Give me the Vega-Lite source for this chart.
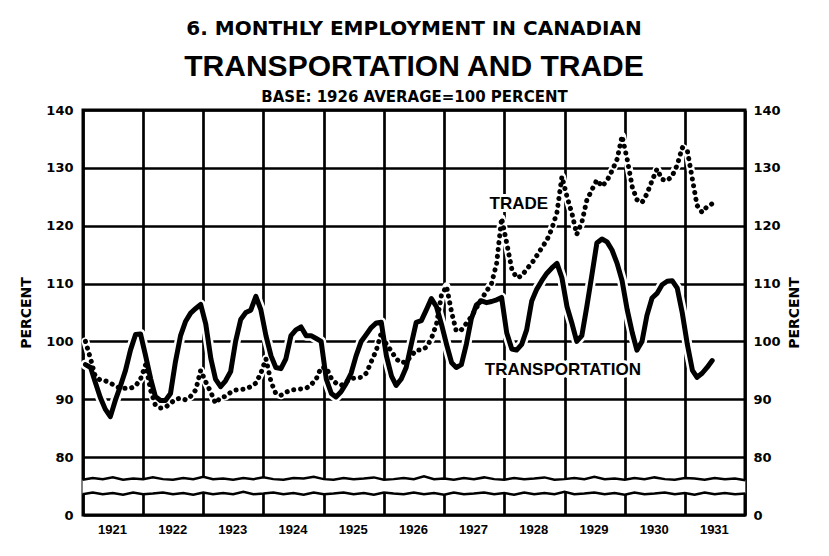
{
  "$schema": "https://vega.github.io/schema/vega-lite/v6.json",
  "width": 662,
  "height": 405,
  "autosize": {"type": "none"},
  "padding": {"left": 83, "top": 110, "right": 84, "bottom": 41},
  "background": "white",
  "config": {"view": {"stroke": "black", "strokeWidth": 3}, "font": "DejaVu Sans"},
  "title": {
    "text": "6. MONTHLY EMPLOYMENT IN CANADIAN",
    "subtitle": "TRANSPORTATION AND TRADE",
    "anchor": "middle",
    "font": "DejaVu Sans", "fontSize": 20, "fontWeight": "bold", "color": "black",
    "subtitleFont": "Liberation Sans", "subtitleFontSize": 30, "subtitleFontWeight": "bold", "subtitleColor": "black",
    "subtitlePadding": 13,
    "offset": 7
  },
  "datasets": {
    "employment": [
      {"date":"1921-01-16","transportation":96,"trade":100},
      {"date":"1921-02-16","transportation":95.5,"trade":97},
      {"date":"1921-03-16","transportation":93,"trade":94},
      {"date":"1921-04-16","transportation":90.3,"trade":93.3},
      {"date":"1921-05-16","transportation":88.3,"trade":93.2},
      {"date":"1921-06-16","transportation":87,"trade":92.8},
      {"date":"1921-07-16","transportation":89.8,"trade":92.3},
      {"date":"1921-08-16","transportation":92.3,"trade":91.9},
      {"date":"1921-09-16","transportation":95,"trade":91.9},
      {"date":"1921-10-16","transportation":98.5,"trade":91.9},
      {"date":"1921-11-16","transportation":101.2,"trade":92.3},
      {"date":"1921-12-16","transportation":101.3,"trade":93.5},
      {"date":"1922-01-16","transportation":97.5,"trade":96},
      {"date":"1922-02-16","transportation":93.5,"trade":91.5},
      {"date":"1922-03-16","transportation":90.5,"trade":89},
      {"date":"1922-04-16","transportation":89.8,"trade":88.5},
      {"date":"1922-05-16","transportation":89.8,"trade":88.6},
      {"date":"1922-06-16","transportation":91,"trade":89.3},
      {"date":"1922-07-16","transportation":96.5,"trade":90},
      {"date":"1922-08-16","transportation":101,"trade":90.2},
      {"date":"1922-09-16","transportation":103.5,"trade":89.9},
      {"date":"1922-10-16","transportation":104.9,"trade":90.5},
      {"date":"1922-11-16","transportation":105.7,"trade":91.6},
      {"date":"1922-12-16","transportation":106.4,"trade":95},
      {"date":"1923-01-16","transportation":103,"trade":93},
      {"date":"1923-02-16","transportation":97,"trade":91.2},
      {"date":"1923-03-16","transportation":93.5,"trade":89.3},
      {"date":"1923-04-16","transportation":92.2,"trade":90.3},
      {"date":"1923-05-16","transportation":93.2,"trade":90.5},
      {"date":"1923-06-16","transportation":94.8,"trade":91.2},
      {"date":"1923-07-16","transportation":100,"trade":91.6},
      {"date":"1923-08-16","transportation":103.8,"trade":91.7},
      {"date":"1923-09-16","transportation":105,"trade":91.8},
      {"date":"1923-10-16","transportation":105.4,"trade":92.2},
      {"date":"1923-11-16","transportation":107.8,"trade":92.8},
      {"date":"1923-12-16","transportation":105.5,"trade":94.5},
      {"date":"1924-01-16","transportation":101,"trade":97},
      {"date":"1924-02-16","transportation":97.5,"trade":93},
      {"date":"1924-03-16","transportation":95.5,"trade":91},
      {"date":"1924-04-16","transportation":95.3,"trade":90.7},
      {"date":"1924-05-16","transportation":97,"trade":91.2},
      {"date":"1924-06-16","transportation":101,"trade":91.6},
      {"date":"1924-07-16","transportation":102,"trade":91.7},
      {"date":"1924-08-16","transportation":102.5,"trade":91.8},
      {"date":"1924-09-16","transportation":101,"trade":91.9},
      {"date":"1924-10-16","transportation":101,"trade":92.5},
      {"date":"1924-11-16","transportation":100.5,"trade":93.5},
      {"date":"1924-12-16","transportation":100,"trade":95.5},
      {"date":"1925-01-16","transportation":93.5,"trade":95.5},
      {"date":"1925-02-16","transportation":91,"trade":93.6},
      {"date":"1925-03-16","transportation":90.4,"trade":92.8},
      {"date":"1925-04-16","transportation":91.3,"trade":92.4},
      {"date":"1925-05-16","transportation":92.7,"trade":93},
      {"date":"1925-06-16","transportation":94.5,"trade":93.6},
      {"date":"1925-07-16","transportation":97.5,"trade":93.7},
      {"date":"1925-08-16","transportation":100,"trade":93.8},
      {"date":"1925-09-16","transportation":101.2,"trade":94.5},
      {"date":"1925-10-16","transportation":102.4,"trade":96.5},
      {"date":"1925-11-16","transportation":103.2,"trade":98.5},
      {"date":"1925-12-16","transportation":103.3,"trade":101.5},
      {"date":"1926-01-16","transportation":97.5,"trade":99.5},
      {"date":"1926-02-16","transportation":94,"trade":98.3},
      {"date":"1926-03-16","transportation":92.4,"trade":97},
      {"date":"1926-04-16","transportation":93.5,"trade":96.3},
      {"date":"1926-05-16","transportation":95.5,"trade":96.5},
      {"date":"1926-06-16","transportation":99.5,"trade":97.5},
      {"date":"1926-07-16","transportation":103.3,"trade":98.5},
      {"date":"1926-08-16","transportation":103.6,"trade":98.5},
      {"date":"1926-09-16","transportation":105.5,"trade":99},
      {"date":"1926-10-16","transportation":107.4,"trade":100.5},
      {"date":"1926-11-16","transportation":106,"trade":103},
      {"date":"1926-12-16","transportation":103,"trade":108},
      {"date":"1927-01-16","transportation":99.5,"trade":109.5},
      {"date":"1927-02-16","transportation":96.3,"trade":105},
      {"date":"1927-03-16","transportation":95.5,"trade":101.8},
      {"date":"1927-04-16","transportation":96,"trade":102},
      {"date":"1927-05-16","transportation":99.5,"trade":103.1},
      {"date":"1927-06-16","transportation":104,"trade":104.3},
      {"date":"1927-07-16","transportation":106.3,"trade":105.8},
      {"date":"1927-08-16","transportation":107,"trade":107.3},
      {"date":"1927-09-16","transportation":106.7,"trade":108.7},
      {"date":"1927-10-16","transportation":106.9,"trade":110},
      {"date":"1927-11-16","transportation":107.2,"trade":113.5},
      {"date":"1927-12-16","transportation":107.6,"trade":121.3},
      {"date":"1928-01-16","transportation":101.5,"trade":117},
      {"date":"1928-02-16","transportation":98.7,"trade":112.5},
      {"date":"1928-03-16","transportation":98.5,"trade":111},
      {"date":"1928-04-16","transportation":99.5,"trade":111.3},
      {"date":"1928-05-16","transportation":102,"trade":112.5},
      {"date":"1928-06-16","transportation":107,"trade":113.5},
      {"date":"1928-07-16","transportation":109,"trade":114.8},
      {"date":"1928-08-16","transportation":110.5,"trade":116.2},
      {"date":"1928-09-16","transportation":111.8,"trade":117.5},
      {"date":"1928-10-16","transportation":112.7,"trade":119.5},
      {"date":"1928-11-16","transportation":113.5,"trade":122.3},
      {"date":"1928-12-16","transportation":111,"trade":128.5},
      {"date":"1929-01-16","transportation":106,"trade":125},
      {"date":"1929-02-16","transportation":103,"trade":122},
      {"date":"1929-03-16","transportation":100,"trade":118.5},
      {"date":"1929-04-16","transportation":101,"trade":120.6},
      {"date":"1929-05-16","transportation":106,"trade":124.4},
      {"date":"1929-06-16","transportation":111.5,"trade":126.2},
      {"date":"1929-07-16","transportation":117,"trade":127.9},
      {"date":"1929-08-16","transportation":117.7,"trade":126.8},
      {"date":"1929-09-16","transportation":117.2,"trade":127.8},
      {"date":"1929-10-16","transportation":115.8,"trade":129.5},
      {"date":"1929-11-16","transportation":113.5,"trade":131.5},
      {"date":"1929-12-16","transportation":110.5,"trade":135.5},
      {"date":"1930-01-16","transportation":105.5,"trade":131.5},
      {"date":"1930-02-16","transportation":101.5,"trade":126.7},
      {"date":"1930-03-16","transportation":98.5,"trade":124.5},
      {"date":"1930-04-16","transportation":100,"trade":124},
      {"date":"1930-05-16","transportation":104.5,"trade":125.5},
      {"date":"1930-06-16","transportation":107.5,"trade":127.8},
      {"date":"1930-07-16","transportation":108.3,"trade":129.8},
      {"date":"1930-08-16","transportation":109.8,"trade":128},
      {"date":"1930-09-16","transportation":110.4,"trade":127.8},
      {"date":"1930-10-16","transportation":110.5,"trade":128.6},
      {"date":"1930-11-16","transportation":109.2,"trade":130.5},
      {"date":"1930-12-16","transportation":105,"trade":133.5},
      {"date":"1931-01-16","transportation":99.5,"trade":133},
      {"date":"1931-02-16","transportation":95,"trade":128},
      {"date":"1931-03-16","transportation":93.8,"trade":123.5},
      {"date":"1931-04-16","transportation":94.5,"trade":122.3},
      {"date":"1931-05-16","transportation":95.5,"trade":123.3},
      {"date":"1931-06-16","transportation":96.7,"trade":123.8}
    ],
    "breakline": [
      {"date":"1920-12-29","upper":76.1,"lower":73.6},
      {"date":"1921-03-01","upper":76.4,"lower":73.9},
      {"date":"1921-05-01","upper":76.2,"lower":73.6},
      {"date":"1921-07-01","upper":76.5,"lower":73.8},
      {"date":"1921-09-01","upper":76.1,"lower":73.5},
      {"date":"1921-11-01","upper":76.3,"lower":73.9},
      {"date":"1922-01-01","upper":76.2,"lower":73.6},
      {"date":"1922-03-01","upper":76.5,"lower":73.7},
      {"date":"1922-05-01","upper":76.2,"lower":73.9},
      {"date":"1922-07-01","upper":76.1,"lower":73.6},
      {"date":"1922-09-01","upper":76.4,"lower":73.8},
      {"date":"1922-11-01","upper":76.2,"lower":73.5},
      {"date":"1923-01-01","upper":76.6,"lower":73.9},
      {"date":"1923-03-01","upper":76.2,"lower":73.6},
      {"date":"1923-05-01","upper":76.3,"lower":73.8},
      {"date":"1923-07-01","upper":76.1,"lower":73.6},
      {"date":"1923-09-01","upper":76.4,"lower":74.0},
      {"date":"1923-11-01","upper":76.2,"lower":73.6},
      {"date":"1924-01-01","upper":76.5,"lower":73.7},
      {"date":"1924-03-01","upper":76.2,"lower":73.9},
      {"date":"1924-05-01","upper":76.1,"lower":73.6},
      {"date":"1924-07-01","upper":76.4,"lower":73.8},
      {"date":"1924-09-01","upper":76.3,"lower":73.5},
      {"date":"1924-11-01","upper":76.6,"lower":73.9},
      {"date":"1925-01-01","upper":76.2,"lower":73.6},
      {"date":"1925-03-01","upper":76.1,"lower":73.7},
      {"date":"1925-05-01","upper":76.4,"lower":73.9},
      {"date":"1925-07-01","upper":76.2,"lower":73.6},
      {"date":"1925-09-01","upper":76.3,"lower":73.8},
      {"date":"1925-11-01","upper":76.5,"lower":73.5},
      {"date":"1926-01-01","upper":76.1,"lower":73.9},
      {"date":"1926-03-01","upper":76.2,"lower":73.7},
      {"date":"1926-05-01","upper":76.4,"lower":73.6},
      {"date":"1926-07-01","upper":76.2,"lower":73.9},
      {"date":"1926-09-01","upper":76.7,"lower":73.6},
      {"date":"1926-11-01","upper":76.2,"lower":73.8},
      {"date":"1927-01-01","upper":76.3,"lower":73.5},
      {"date":"1927-03-01","upper":76.1,"lower":73.9},
      {"date":"1927-05-01","upper":76.4,"lower":73.6},
      {"date":"1927-07-01","upper":76.2,"lower":73.7},
      {"date":"1927-09-01","upper":76.5,"lower":73.9},
      {"date":"1927-11-01","upper":76.2,"lower":73.6},
      {"date":"1928-01-01","upper":76.1,"lower":73.8},
      {"date":"1928-03-01","upper":76.4,"lower":73.5},
      {"date":"1928-05-01","upper":76.2,"lower":73.9},
      {"date":"1928-07-01","upper":76.3,"lower":73.6},
      {"date":"1928-09-01","upper":76.5,"lower":73.8},
      {"date":"1928-11-01","upper":76.1,"lower":73.6},
      {"date":"1929-01-01","upper":76.2,"lower":74.0},
      {"date":"1929-03-01","upper":76.4,"lower":73.6},
      {"date":"1929-05-01","upper":76.2,"lower":73.7},
      {"date":"1929-07-01","upper":76.6,"lower":73.9},
      {"date":"1929-09-01","upper":76.2,"lower":73.6},
      {"date":"1929-11-01","upper":76.3,"lower":73.8},
      {"date":"1930-01-01","upper":76.1,"lower":73.5},
      {"date":"1930-03-01","upper":76.4,"lower":73.9},
      {"date":"1930-05-01","upper":76.2,"lower":73.6},
      {"date":"1930-07-01","upper":76.5,"lower":73.7},
      {"date":"1930-09-01","upper":76.2,"lower":73.9},
      {"date":"1930-11-01","upper":76.1,"lower":73.6},
      {"date":"1931-01-01","upper":76.4,"lower":73.8},
      {"date":"1931-03-01","upper":76.3,"lower":73.5},
      {"date":"1931-05-01","upper":76.1,"lower":73.9},
      {"date":"1931-07-01","upper":76.4,"lower":73.6},
      {"date":"1931-09-01","upper":76.2,"lower":73.8},
      {"date":"1931-11-01","upper":76.3,"lower":73.6},
      {"date":"1932-01-03","upper":76.0,"lower":73.7}
    ],
    "labels": [
      {"label": "TRADE", "date": "1928-03-30", "value": 123.8},
      {"label": "TRANSPORTATION", "date": "1928-12-22", "value": 95.1}
    ]
  },
  "layer": [
    {
      "data": {"name": "breakline"},
      "mark": {"type": "area", "color": "white", "opacity": 1},
      "encoding": {
        "x": {"field": "date", "type": "temporal",
              "scale": {"type": "utc", "domain": [{"year":1921,"month":1,"date":1,"utc":true},{"year":1932,"month":1,"date":1,"utc":true}]},
              "axis": {"orient": "top", "title": "BASE: 1926 AVERAGE=100 PERCENT", "labels": false, "ticks": false, "domain": false, "grid": false,
                       "titleFont": "DejaVu Sans", "titleFontSize": 15, "titleFontWeight": "bold", "titleColor": "black", "titlePadding": 6}},
        "y": {"field": "upper", "type": "quantitative", "scale": {"domain": [70, 140], "nice": false, "zero": false}, "axis": null},
        "y2": {"field": "lower"}
      }
    },
    {
      "data": {"name": "breakline"},
      "mark": {"type": "line", "color": "black", "strokeWidth": 2.5},
      "encoding": {
        "x": {"field": "date", "type": "temporal", "axis": null},
        "y": {"field": "upper", "type": "quantitative", "axis": null}
      }
    },
    {
      "data": {"name": "breakline"},
      "mark": {"type": "line", "color": "black", "strokeWidth": 2.5},
      "encoding": {
        "x": {"field": "date", "type": "temporal", "axis": null},
        "y": {"field": "lower", "type": "quantitative", "axis": null}
      }
    },
    {
      "data": {"name": "employment"},
      "mark": {"type": "line", "color": "white", "strokeWidth": 8, "strokeJoin": "round", "strokeCap": "round"},
      "encoding": {
        "x": {"field": "date", "type": "temporal", "axis": null},
        "y": {"field": "trade", "type": "quantitative", "axis": null}
      }
    },
    {
      "data": {"name": "employment"},
      "mark": {"type": "line", "color": "white", "strokeWidth": 10, "strokeJoin": "round", "strokeCap": "round"},
      "encoding": {
        "x": {"field": "date", "type": "temporal", "axis": null},
        "y": {"field": "transportation", "type": "quantitative", "axis": null}
      }
    },
    {
      "data": {"name": "employment"},
      "mark": {"type": "line", "color": "black", "strokeWidth": 5, "strokeDash": [0.1, 6.8], "strokeCap": "round", "strokeJoin": "round"},
      "encoding": {
        "x": {"field": "date", "type": "temporal", "axis": null},
        "y": {"field": "trade", "type": "quantitative",
              "axis": {"orient": "right", "values": [70, 80, 90, 100, 110, 120, 130, 140],
                       "labelExpr": "datum.value == 70 ? '0' : datum.label",
                       "grid": false, "ticks": false, "domain": false,
                       "labelFont": "DejaVu Sans", "labelFontWeight": "bold", "labelFontSize": 13, "labelColor": "black", "labelPadding": 8,
                       "title": "PERCENT", "titleFont": "DejaVu Sans", "titleFontWeight": "bold", "titleFontSize": 14, "titleColor": "black",
                       "titleAngle": 270, "titlePadding": 21}}
      }
    },
    {
      "data": {"name": "employment"},
      "mark": {"type": "line", "color": "black", "strokeWidth": 5, "strokeJoin": "round", "strokeCap": "round"},
      "encoding": {
        "x": {"field": "date", "type": "temporal",
              "axis": {"orient": "bottom",
                       "values": [{"year":1921,"month":1,"date":1,"utc":true},{"year":1922,"month":1,"date":1,"utc":true},{"year":1923,"month":1,"date":1,"utc":true},{"year":1924,"month":1,"date":1,"utc":true},{"year":1925,"month":1,"date":1,"utc":true},{"year":1926,"month":1,"date":1,"utc":true},{"year":1927,"month":1,"date":1,"utc":true},{"year":1928,"month":1,"date":1,"utc":true},{"year":1929,"month":1,"date":1,"utc":true},{"year":1930,"month":1,"date":1,"utc":true},{"year":1931,"month":1,"date":1,"utc":true},{"year":1932,"month":1,"date":1,"utc":true}],
                       "labelExpr": "utcFormat(datum.value, '%Y') == '1932' ? '' : utcFormat(datum.value, '%Y')",
                       "labelOffset": 29, "labelFlush": false, "labelAlign": "center", "labelOverlap": false,
                       "grid": true, "gridColor": "black", "gridWidth": 2.7, "gridOpacity": 1,
                       "ticks": false, "domain": false,
                       "labelFont": "Liberation Sans", "labelFontWeight": "bold", "labelFontSize": 13, "labelColor": "black", "labelPadding": 8,
                       "title": null}},
        "y": {"field": "transportation", "type": "quantitative",
              "axis": {"orient": "left", "values": [70, 80, 90, 100, 110, 120, 130, 140],
                       "labelExpr": "datum.value == 70 ? '0' : datum.label",
                       "grid": true, "gridColor": "black", "gridWidth": 2.7, "gridOpacity": 1,
                       "ticks": false, "domain": false,
                       "labelFont": "DejaVu Sans", "labelFontWeight": "bold", "labelFontSize": 13, "labelColor": "black", "labelPadding": 10,
                       "title": "PERCENT", "titleFont": "DejaVu Sans", "titleFontWeight": "bold", "titleFontSize": 14, "titleColor": "black",
                       "titlePadding": 12}}
      }
    },
    {
      "data": {"name": "labels"},
      "mark": {"type": "text", "font": "Liberation Sans", "fontWeight": "bold", "fontSize": 17, "color": "white", "stroke": "white", "strokeWidth": 6, "baseline": "middle"},
      "encoding": {
        "x": {"field": "date", "type": "temporal", "axis": null},
        "y": {"field": "value", "type": "quantitative", "axis": null},
        "text": {"field": "label"}
      }
    },
    {
      "data": {"name": "labels"},
      "mark": {"type": "text", "font": "Liberation Sans", "fontWeight": "bold", "fontSize": 17, "color": "black", "baseline": "middle"},
      "encoding": {
        "x": {"field": "date", "type": "temporal", "axis": null},
        "y": {"field": "value", "type": "quantitative", "axis": null},
        "text": {"field": "label"}
      }
    }
  ]
}
